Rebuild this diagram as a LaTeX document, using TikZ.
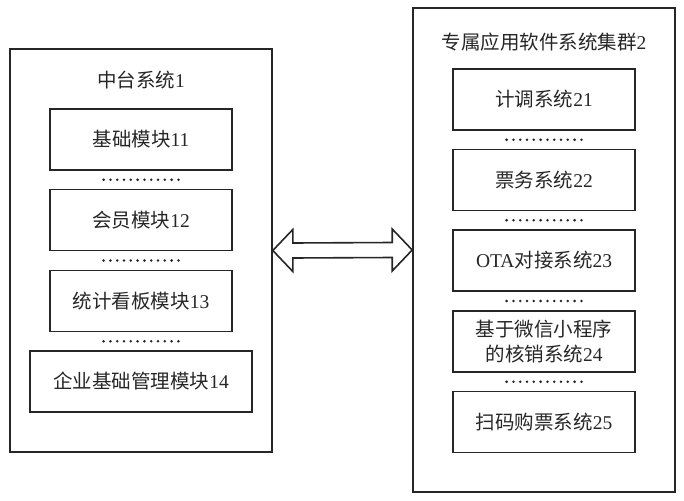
\documentclass[tikz,border=0pt]{standalone}
\usepackage{fontspec}
\setmainfont{Liberation Serif}
\newfontfamily\cjk{Noto Sans CJK SC}
\usepackage{tikz}
\usetikzlibrary{calc, positioning}
\newcommand{\zh}[1]{{\cjk #1}}

\begin{document}
\begin{tikzpicture}[x=1pt, y=-1pt,
        every node/.style={text=black!85, font=\fontsize{19.5}{25}\selectfont},
        outerbox/.style={draw=black!85, line width=1.6pt, minimum width=262pt, inner sep=0pt},
        modbox/.style={draw=black!85, line width=1.6pt, minimum width=182pt, minimum height=61pt, inner sep=0pt, align=center}]
        \useasboundingbox (0,0) rectangle (684,500);
        % left side
        \node[outerbox, minimum height=403pt] (sys1) at (141,250.5) {};
        \node (t1) at (141,80) {\zh{中台系统}1};
        \node[modbox] (m11) at (141,139.5) {\zh{基础模块}11};
        \node[modbox] (m12) at (141,220) {\zh{会员模块}12};
        \node[modbox] (m13) at (141,301) {\zh{统计看板模块}13};
        \node[modbox, minimum width=222pt] (m14) at (141,381.5) {\zh{企业基础管理模块}14};
        % right side
        \node[outerbox, minimum height=484pt] (sys2) at (544,250) {};
        \node (t2) at (544,42) {\zh{专属应用软件系统集群}2};
        \node[modbox] (s21) at (544,99.5) {\zh{计调系统}21};
        \node[modbox] (s22) at (544,180) {\zh{票务系统}22};
        \node[modbox] (s23) at (544,260.5) {OTA\zh{对接系统}23};
        \node[modbox] (s24) at (544,341.5) {\zh{基于微信小程序}\\\zh{的核销系统}24};
        \node[modbox] (s25) at (544,422) {\zh{扫码购票系统}25};
        % dots between modules
        \foreach \a/\b in {m11/m12, m12/m13, m13/m14, s21/s22, s22/s23, s23/s24, s24/s25}
            \foreach \i in {0,...,11}
                \fill[black!85] ($(\a.south)!0.5!(\b.north)+(\i*6.8-37.4,0)$) circle (1.4pt);
        % double arrow
        \draw[black!85, line width=1.6pt, line join=miter]
            (sys1.east) -- ++(20,-21) -- ++(0,13.5) -- ($(sys2.west)+(-20,-7.5)$)
            -- ++(0,-13.5) -- (sys2.west) -- ++(-20,21) -- ++(0,-13.5)
            -- ($(sys1.east)+(20,7.5)$) -- ++(0,13.5) -- cycle;
\end{tikzpicture}
\end{document}
